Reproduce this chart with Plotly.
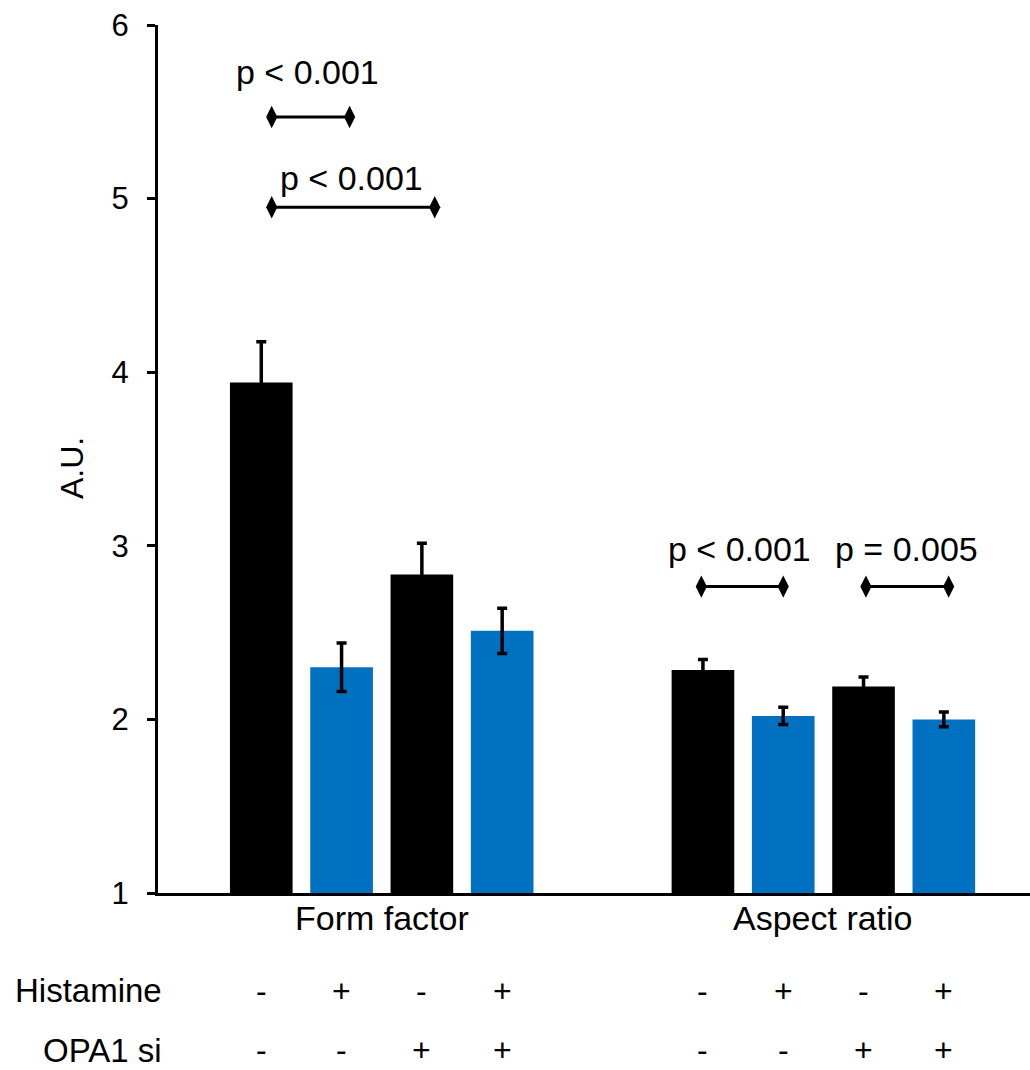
import plotly.graph_objects as go

# ---------------- data ----------------
groups = ["Form factor", "Aspect ratio"]
group_pos = [1.5, 7.0]
bar_pos = [0, 1, 2, 3, 5.5, 6.5, 7.5, 8.5]
is_histamine = [False, True, False, True, False, True, False, True]
histamine_signs = ["-", "+", "-", "+", "-", "+", "-", "+"]
opa1_signs = ["-", "-", "+", "+", "-", "-", "+", "+"]
values = [3.94, 2.30, 2.835, 2.51, 2.285, 2.02, 2.19, 2.0]
errors = [0.235, 0.14, 0.18, 0.13, 0.06, 0.05, 0.054, 0.042]

# significance brackets: (x_start, x_end, y, label, label_x, label_y)
brackets = [
    (0.13, 1.10, 5.47, "p < 0.001", 0.57, 5.73),
    (0.13, 2.16, 4.95, "p < 0.001", 1.12, 5.12),
    (5.48, 6.50, 2.765, "p < 0.001", 5.95, 2.98),
    (7.53, 8.56, 2.765, "p = 0.005", 8.03, 2.98),
]

y_ticks = [1, 2, 3, 4, 5, 6]
row_labels = ["Histamine", "OPA1 si"]

BLACK = "#000000"
BLUE = "#0070C0"
FONT = "Liberation Sans, Arial, sans-serif"

# ---------------- figure ----------------
W, H = 1030, 1070
L, R, T, B = 158, 0, 25, 177
plot_h = H - T - B
plot_w = W - L - R


def py(pix):
    """pixel y (from top) -> paper y"""
    return (H - B - pix) / plot_h


def px(pix):
    """pixel x -> paper x"""
    return (pix - L) / plot_w


fig = go.Figure()

for flag, color in [(False, BLACK), (True, BLUE)]:
    xs = [p for p, h in zip(bar_pos, is_histamine) if h == flag]
    ys = [v for v, h in zip(values, is_histamine) if h == flag]
    es = [e for e, h in zip(errors, is_histamine) if h == flag]
    fig.add_trace(go.Bar(
        x=xs, y=ys, width=0.78,
        marker=dict(color=color, line=dict(width=0)),
        error_y=dict(type="data", array=es, visible=True,
                     color="black", thickness=3.5, width=5),
        showlegend=False,
    ))

# brackets
for x0, x1, yb, lab, lx, ly in brackets:
    fig.add_trace(go.Scatter(
        x=[x0, x1], y=[yb, yb], mode="lines+markers",
        line=dict(color="black", width=3),
        marker=dict(symbol="diamond-tall", size=16, color="black"),
        showlegend=False, hoverinfo="skip",
    ))
    fig.add_annotation(x=lx, y=ly, xref="x", yref="y", text=lab,
                       showarrow=False, font=dict(size=34, color="black", family=FONT),
                       xanchor="center", yanchor="middle")

# group labels
for g, gp in zip(groups, group_pos):
    fig.add_annotation(x=gp, y=py(918), xref="x", yref="paper", text=g,
                       showarrow=False, font=dict(size=34, color="black", family=FONT),
                       xanchor="center", yanchor="middle")

# sign rows
for sign_row, ypix in [(histamine_signs, 991), (opa1_signs, 1050)]:
    for p, s in zip(bar_pos, sign_row):
        fig.add_annotation(x=p, y=py(ypix), xref="x", yref="paper", text=s,
                           showarrow=False, font=dict(size=32, color="black", family=FONT),
                           xanchor="center", yanchor="middle")

for lab, ypix in zip(row_labels, [991, 1050]):
    fig.add_annotation(x=px(164), y=py(ypix), xref="paper", yref="paper", text=lab,
                       showarrow=False, font=dict(size=33, color="black", family=FONT),
                       xanchor="right", yanchor="middle")

# y axis title
fig.add_annotation(x=px(72), y=py(468), xref="paper", yref="paper", text="A.U.",
                   showarrow=False, textangle=-90,
                   font=dict(size=32, color="black", family=FONT),
                   xanchor="center", yanchor="middle")

fig.update_layout(
    width=W, height=H,
    margin=dict(l=L, r=R, t=T, b=B, pad=0),
    plot_bgcolor="white", paper_bgcolor="white",
    barmode="overlay",
    font=dict(family=FONT, color="black"),
    xaxis=dict(range=[-1.286, 9.573], showgrid=False, zeroline=False,
               showticklabels=False, ticks="", showline=True,
               linecolor="black", linewidth=3),
    yaxis=dict(range=[1, 6], tickvals=y_ticks, showgrid=False, zeroline=False,
               showline=True, linecolor="black", linewidth=3,
               ticks="outside", ticklen=8, tickwidth=3, tickcolor="black",
               tickfont=dict(size=31, color="black", family=FONT),
               ticklabelstandoff=12),
)

fig.write_html("out.html", config={"displayModeBar": False},
               post_script="document.body.style.margin='0px';document.body.style.padding='0px';")
